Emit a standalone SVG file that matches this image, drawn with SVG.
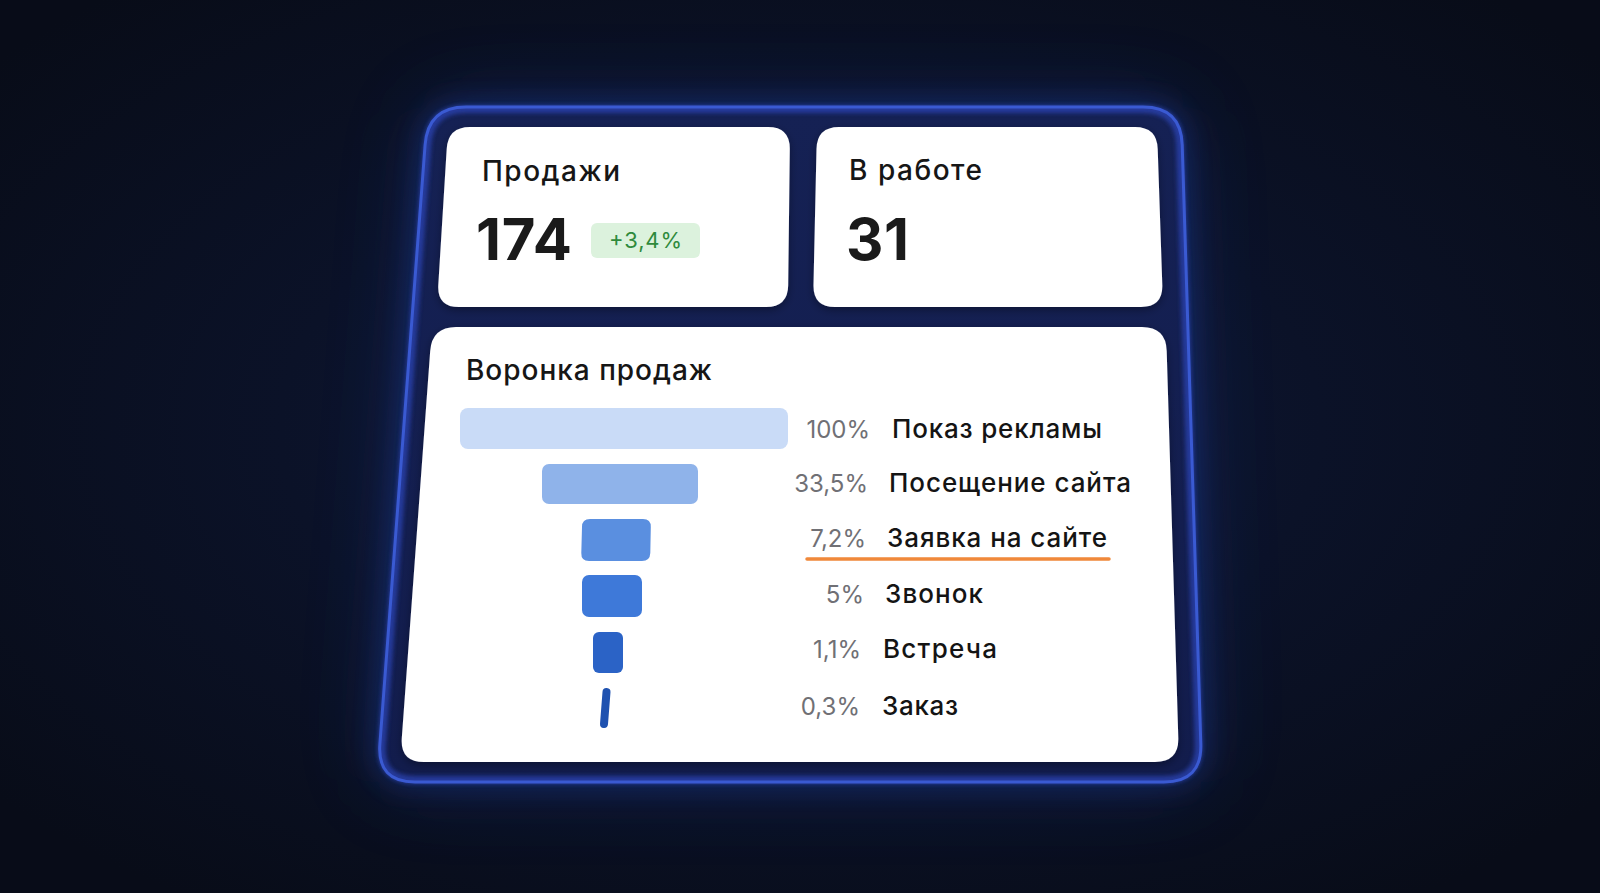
<svg xmlns="http://www.w3.org/2000/svg" width="1600" height="893" viewBox="0 0 1600 893">
<defs>
<radialGradient id="bg" cx="50%" cy="48%" r="65%">
<stop offset="0" stop-color="#101a3a"/>
<stop offset="0.5" stop-color="#0b1228"/>
<stop offset="1" stop-color="#080c18"/>
</radialGradient>
<linearGradient id="frameFill" x1="0" y1="0" x2="0" y2="1">
<stop offset="0" stop-color="#152154"/>
<stop offset="1" stop-color="#121c4c"/>
</linearGradient>
<filter id="glow" x="-20%" y="-20%" width="140%" height="140%">
<feGaussianBlur stdDeviation="12"/>
</filter>
<filter id="haze" x="-30%" y="-30%" width="160%" height="160%">
<feGaussianBlur stdDeviation="40"/>
</filter>
<filter id="soft" x="-10%" y="-10%" width="120%" height="120%">
<feGaussianBlur stdDeviation="2"/>
</filter>
<filter id="shadow" x="-10%" y="-10%" width="120%" height="130%">
<feDropShadow dx="0" dy="3" stdDeviation="4" flood-color="#000" flood-opacity="0.35"/>
</filter>
<style>
.card{fill:#ffffff;filter:url(#shadow)}
.title{font-family:Inter,"Liberation Sans",sans-serif;font-weight:500;font-size:28px;fill:#161616}
.big{font-family:Inter,"Liberation Sans",sans-serif;font-weight:700;font-size:58px;fill:#1a1a1a}
.pct{font-family:Inter,"Liberation Sans",sans-serif;font-weight:400;font-size:24px;fill:#707075;text-anchor:end}
.lbl{font-family:Inter,"Liberation Sans",sans-serif;font-weight:500;font-size:26px;fill:#141414}
</style>
</defs>
<rect width="1600" height="893" fill="url(#bg)"/>
<g id="frame">
<path d="M466,107 L1143,107 Q1181,107 1182.2,145 L1200.8,744 Q1202,782 1164,782 L415,782 Q377,782 379.9,744 L425.1,145 Q428,107 466,107 Z" fill="#1c3a9a" opacity="0.4" filter="url(#haze)"/>
<path d="M466,107 L1143,107 Q1181,107 1182.2,145 L1200.8,744 Q1202,782 1164,782 L415,782 Q377,782 379.9,744 L425.1,145 Q428,107 466,107 Z" fill="none" stroke="#2f5fe6" stroke-width="6" opacity="0.55" filter="url(#glow)"/>
<path d="M466,107 L1143,107 Q1181,107 1182.2,145 L1200.8,744 Q1202,782 1164,782 L415,782 Q377,782 379.9,744 L425.1,145 Q428,107 466,107 Z" fill="url(#frameFill)"/>
<path d="M466,109 L1143,109 Q1179,109 1180.2,145 L1198.8,744 Q1200,780 1164,780 L415,780 Q379,780 381.9,744 L427.1,145 Q430,109 466,109 Z" fill="none" stroke="#2a42b0" stroke-width="8" opacity="0.8" filter="url(#soft)"/>
<path d="M466,107 L1143,107 Q1181,107 1182.2,145 L1200.8,744 Q1202,782 1164,782 L415,782 Q377,782 379.9,744 L425.1,145 Q428,107 466,107 Z" fill="none" stroke="#3a5ad2" stroke-width="3"/>
</g>
<g id="card-sales">
<path class="card" d="M470,127 L768,127 Q790,127 789.8,149 L788.2,285 Q788,307 766,307 L459,307 Q437,307 438.3,285 L446.7,149 Q448,127 470,127Z"/>
<text class="title" x="482" y="181" textLength="138">Продажи</text>
<text class="big" x="476" y="260" textLength="96">174</text>
<rect x="591" y="223" width="109" height="35" rx="6" fill="#dcf2dd"/>
<text x="609" y="248" textLength="73" font-family="Inter,'Liberation Sans',sans-serif" font-size="22" fill="#2f8a3c">+3,4%</text>
</g>
<g id="card-work">
<path class="card" d="M839,127 L1135,127 Q1157,127 1157.7,149 L1162.3,285 Q1163,307 1141,307 L835,307 Q813,307 813.5,285 L816.5,149 Q817,127 839,127Z"/>
<text class="title" x="849" y="180" textLength="133">В работе</text>
<text class="big" x="846" y="260" textLength="63">31</text>
</g>
<g id="card-funnel">
<path class="card" d="M456,327 L1142,327 Q1166,327 1166.7,351 L1178.3,738 Q1179,762 1155,762 L424,762 Q400,762 401.8,738 L430.2,351 Q432,327 456,327Z"/>
<text class="title" x="466" y="380" textLength="246">Воронка продаж</text>
</g>
<g id="bar-1">
<rect x="460" y="408" width="328" height="41" rx="8" fill="#c9dbf7"/>
<text class="pct" x="870" y="438">100%</text>
<text class="lbl" x="892" y="438" textLength="210">Показ рекламы</text>
</g>
<g id="bar-2">
<rect x="542" y="464" width="156" height="40" rx="7" fill="#8fb3ea"/>
<text class="pct" x="868" y="492">33,5%</text>
<text class="lbl" x="889" y="492" textLength="242">Посещение сайта</text>
</g>
<g id="bar-3">
<path d="M590,519 L643,519 Q651,519 650.8,527 L650.3,553 Q650,561 642,561 L589,561 Q581,561 581.3,553 L582,527 Q582,519 590,519Z" fill="#5a8fe0"/>
<text class="pct" x="866" y="547">7,2%</text>
<text class="lbl" x="887" y="547" textLength="220">Заявка на сайте</text>
<line x1="807" y1="559" x2="1109" y2="559" stroke="#f0883a" stroke-width="3.5" stroke-linecap="round"/>
</g>
<g id="bar-4">
<rect x="582" y="575" width="60" height="42" rx="7" fill="#3e79d9"/>
<text class="pct" x="864" y="603">5%</text>
<text class="lbl" x="885" y="603" textLength="98">Звонок</text>
</g>
<g id="bar-5">
<rect x="593" y="632" width="30" height="41" rx="6" fill="#2b63c6"/>
<text class="pct" x="861" y="658">1,1%</text>
<text class="lbl" x="883" y="658" textLength="114">Встреча</text>
</g>
<g id="bar-6">
<line x1="606.5" y1="692" x2="604" y2="724" stroke="#1f52b0" stroke-width="8" stroke-linecap="round"/>
<text class="pct" x="860" y="715">0,3%</text>
<text class="lbl" x="882" y="715" textLength="76">Заказ</text>
</g>
</svg>
